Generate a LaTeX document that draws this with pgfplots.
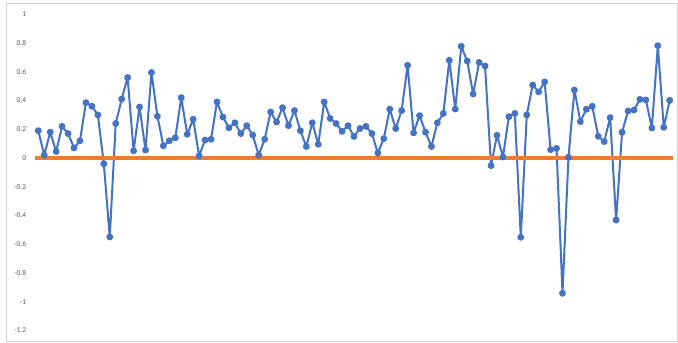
\documentclass[border=0pt]{standalone}
\usepackage{fontspec}
\setmainfont{Carlito}
\usepackage{pgfplots}
\usepackage{pgfplotstable}
\pgfplotsset{compat=1.18}

\definecolor{seriesblue}{HTML}{4472C4}
\definecolor{baseorange}{HTML}{ED7D31}
\definecolor{labelgray}{HTML}{595959}
\definecolor{framegray}{HTML}{D0D0D0}

\pgfplotstableread{
x y
1 0.19
2 0.02
3 0.18
4 0.045
5 0.22
6 0.17
7 0.07
8 0.12
9 0.385
10 0.36
11 0.30
12 -0.04
13 -0.55
14 0.24
15 0.41
16 0.56
17 0.05
18 0.355
19 0.055
20 0.595
21 0.29
22 0.085
23 0.12
24 0.14
25 0.42
26 0.165
27 0.27
28 0.015
29 0.125
30 0.13
31 0.39
32 0.285
33 0.21
34 0.245
35 0.17
36 0.225
37 0.16
38 0.02
39 0.13
40 0.32
41 0.25
42 0.35
43 0.225
44 0.33
45 0.19
46 0.08
47 0.245
48 0.095
49 0.39
50 0.275
51 0.24
52 0.185
53 0.225
54 0.15
55 0.205
56 0.22
57 0.17
58 0.035
59 0.135
60 0.34
61 0.205
62 0.33
63 0.645
64 0.175
65 0.295
66 0.18
67 0.08
68 0.245
69 0.31
70 0.68
71 0.34
72 0.777
73 0.675
74 0.445
75 0.665
76 0.64
77 -0.053
78 0.158
79 0.007
80 0.288
81 0.31
82 -0.552
83 0.30
84 0.508
85 0.46
86 0.53
87 0.058
88 0.067
89 -0.942
90 0.005
91 0.473
92 0.253
93 0.339
94 0.36
95 0.151
96 0.114
97 0.281
98 -0.432
99 0.179
100 0.327
101 0.334
102 0.408
103 0.404
104 0.209
105 0.782
106 0.213
107 0.401
}\seriesdata

\begin{document}
\begin{tikzpicture}
% page extent and chart-area frame
\path (0,0) rectangle (678bp,343bp);
\draw[framegray, line width=0.8bp] (6bp,1.3bp) rectangle (677bp,339.7bp);
\begin{axis}[
  at={(35.3bp,12.6bp)}, anchor=south west,
  scale only axis,
  width=637.4bp, height=316.1bp,
  xmin=0.5, xmax=107.5,
  ymin=-1.2, ymax=1,
  axis line style={draw=none},
  xtick=\empty,
  ytick={-1.2,-1,-0.8,-0.6,-0.4,-0.2,0,0.2,0.4,0.6,0.8,1},
  yticklabels={-1.2,-1,-0.8,-0.6,-0.4,-0.2,0,0.2,0.4,0.6,0.8,1},
  major tick length=0pt,
  yticklabel style={font=\fontsize{7.5}{8}\selectfont, text=labelgray,
    anchor=east, inner sep=0pt, xshift=-9bp},
  clip=false,
]
\addplot[seriesblue, line width=2bp, line join=round, line cap=round,
  mark=*, mark size=2.4bp,
  mark options={fill=seriesblue, draw=none}]
  table[x=x, y=y] {\seriesdata};
\addplot[baseorange, line width=3.5bp] coordinates {(0.5,0) (107.5,0)};
\end{axis}
\end{tikzpicture}
\end{document}
